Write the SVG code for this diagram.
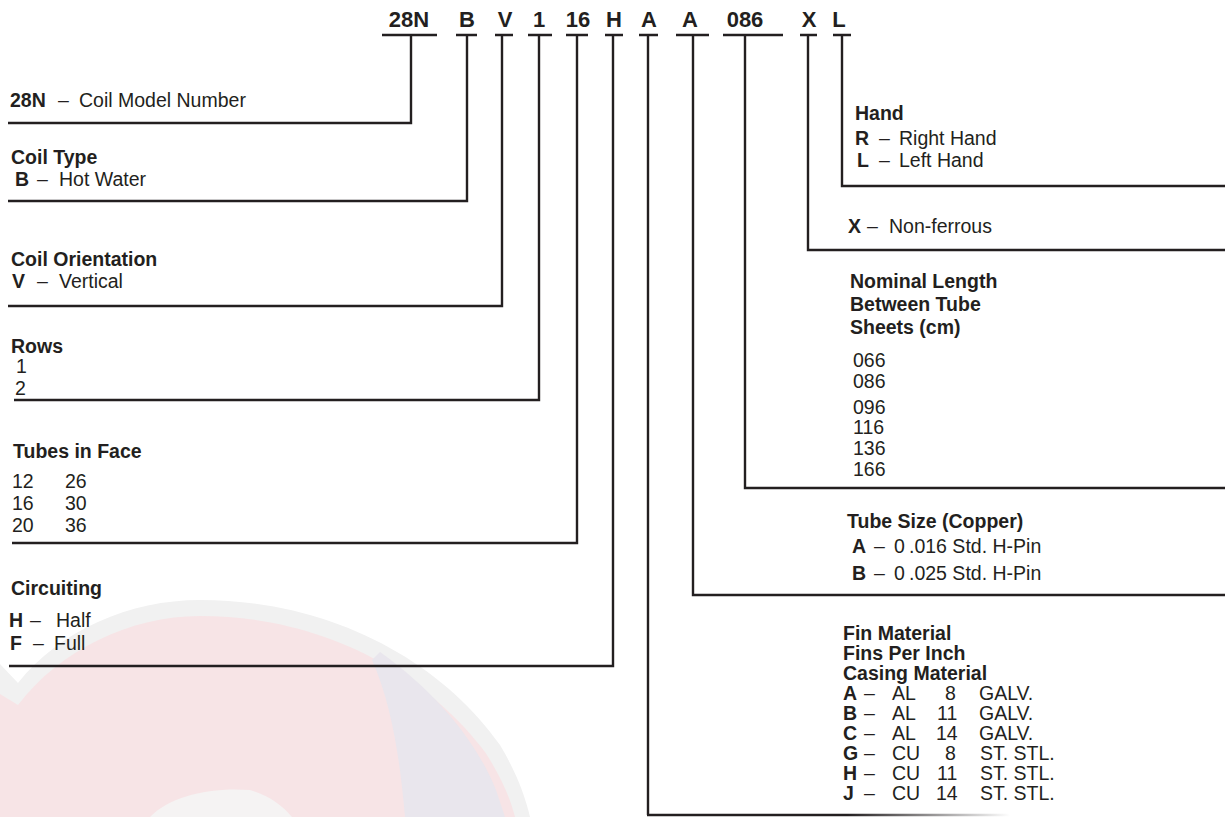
<svg xmlns="http://www.w3.org/2000/svg" width="1225" height="817" viewBox="0 0 1225 817">
<defs>
<style>
text { font-family: "Liberation Sans", Arial, Helvetica, sans-serif; fill: #231f20; font-size: 19.5px; }
.b { font-weight: bold; }
.code { font-weight: bold; font-size: 22px; text-anchor: middle; }
.ln { fill: none; stroke: #231f20; stroke-width: 2.4; }
</style>
<linearGradient id="fade" x1="648" y1="0" x2="1010" y2="0" gradientUnits="userSpaceOnUse">
<stop offset="0" stop-color="#231f20"/>
<stop offset="0.55" stop-color="#231f20"/>
<stop offset="1" stop-color="#231f20" stop-opacity="0"/>
</linearGradient>
</defs>
<rect width="1225" height="817" fill="#ffffff"/>
<g id="watermark">
<path d="M0,664 L18,683 C60,630 130,600 200,600 C330,600 440,660 500,745 C515,770 525,795 530,817 L0,817 Z" fill="#f1f1f1"/>
<path d="M0,694 L18,705 C60,650 130,616 200,616 C320,616 425,672 485,752 C500,775 510,797 515,817 L0,817 Z" fill="#f7e4e6"/>
<path d="M380,652 C440,695 478,745 496,790 L505,817 L405,817 C400,760 392,705 372,660 Z" fill="#e9e6ed"/>
<path d="M150,817 C170,796 210,787 250,790 C268,795 282,805 292,817 Z" fill="#f5f3f3"/>
</g>
<g id="connectors">
<path class="ln" d="M382,35 H437 M411,35 V123 H8"/>
<path class="ln" d="M456,35 H477 M467,35 V201 H8"/>
<path class="ln" d="M495,35 H513 M502,35 V306 H8"/>
<path class="ln" d="M528,35 H552 M539,35 V400 H14"/>
<path class="ln" d="M566,35 H588 M577,35 V543 H12"/>
<path class="ln" d="M605,35 H623 M613,35 V666 H9"/>
<path class="ln" d="M639,35 H658 M648,35 V815"/>
<path d="M647,815 H1010" fill="none" stroke="url(#fade)" stroke-width="2.4"/>
<path class="ln" d="M676,35 H709 M693,35 V595 H1225"/>
<path class="ln" d="M723,35 H783 M745,35 V488 H1225"/>
<path class="ln" d="M800,35 H817 M808,35 V250 H1225"/>
<path class="ln" d="M833,35 H851 M842,35 V186 H1225"/>
</g>
<g id="model-code">
<text class="code" x="409" y="27">28N</text>
<text class="code" x="467" y="27">B</text>
<text class="code" x="505" y="27">V</text>
<text class="code" x="539" y="27">1</text>
<text class="code" x="578" y="27">16</text>
<text class="code" x="614" y="27">H</text>
<text class="code" x="649" y="27">A</text>
<text class="code" x="690" y="27">A</text>
<text class="code" x="745" y="27">086</text>
<text class="code" x="809" y="27">X</text>
<text class="code" x="839" y="27">L</text>
</g>
<g id="coil-model">
<text y="107"><tspan class="b" x="10">28N</tspan><tspan x="58">–</tspan><tspan x="79">Coil Model Number</tspan></text>
</g>
<g id="coil-type">
<text class="b" x="11" y="164">Coil Type</text>
<text y="186"><tspan class="b" x="15">B</tspan><tspan x="37">–</tspan><tspan x="59">Hot Water</tspan></text>
</g>
<g id="coil-orientation">
<text class="b" x="11" y="266">Coil Orientation</text>
<text y="288"><tspan class="b" x="12">V</tspan><tspan x="37">–</tspan><tspan x="59">Vertical</tspan></text>
</g>
<g id="rows">
<text class="b" x="11" y="353">Rows</text>
<text x="16" y="373">1</text>
<text x="15" y="395">2</text>
</g>
<g id="tubes-in-face">
<text class="b" x="13" y="458">Tubes in Face</text>
<text y="488"><tspan x="12">12</tspan><tspan x="65">26</tspan></text>
<text y="510"><tspan x="12">16</tspan><tspan x="65">30</tspan></text>
<text y="532"><tspan x="12">20</tspan><tspan x="65">36</tspan></text>
</g>
<g id="circuiting">
<text class="b" x="11" y="595">Circuiting</text>
<text y="627"><tspan class="b" x="9">H</tspan><tspan x="30">–</tspan><tspan x="56">Half</tspan></text>
<text y="650"><tspan class="b" x="10">F</tspan><tspan x="33">–</tspan><tspan x="54">Full</tspan></text>
</g>
<g id="hand">
<text class="b" x="855" y="120">Hand</text>
<text y="145"><tspan class="b" x="855">R</tspan><tspan x="879">–</tspan><tspan x="899">Right Hand</tspan></text>
<text y="167"><tspan class="b" x="857">L</tspan><tspan x="879">–</tspan><tspan x="899">Left Hand</tspan></text>
</g>
<g id="non-ferrous">
<text y="233"><tspan class="b" x="848">X</tspan><tspan x="867">–</tspan><tspan x="889">Non-ferrous</tspan></text>
</g>
<g id="nominal-length">
<text class="b" x="850" y="288">Nominal Length</text>
<text class="b" x="850" y="311">Between Tube</text>
<text class="b" x="850" y="334">Sheets (cm)</text>
<text x="853" y="367">066</text>
<text x="853" y="388">086</text>
<text x="853" y="414">096</text>
<text x="853" y="434">116</text>
<text x="853" y="455">136</text>
<text x="853" y="476">166</text>
</g>
<g id="tube-size">
<text class="b" x="847" y="528">Tube Size (Copper)</text>
<text y="553"><tspan class="b" x="852">A</tspan><tspan x="874">–</tspan><tspan x="894">0</tspan><tspan x="909">.016 Std. H-Pin</tspan></text>
<text y="580"><tspan class="b" x="852">B</tspan><tspan x="874">–</tspan><tspan x="894">0</tspan><tspan x="909">.025 Std. H-Pin</tspan></text>
</g>
<g id="fin-material">
<text class="b" x="843" y="640">Fin Material</text>
<text class="b" x="843" y="660">Fins Per Inch</text>
<text class="b" x="843" y="680">Casing Material</text>
<text y="700"><tspan class="b" x="843">A</tspan><tspan x="864">–</tspan><tspan x="892">AL</tspan><tspan x="945">8</tspan><tspan x="979">GALV.</tspan></text>
<text y="720"><tspan class="b" x="843">B</tspan><tspan x="864">–</tspan><tspan x="892">AL</tspan><tspan x="937">11</tspan><tspan x="979">GALV.</tspan></text>
<text y="740"><tspan class="b" x="843">C</tspan><tspan x="864">–</tspan><tspan x="892">AL</tspan><tspan x="936">14</tspan><tspan x="979">GALV.</tspan></text>
<text y="760"><tspan class="b" x="843">G</tspan><tspan x="864">–</tspan><tspan x="892">CU</tspan><tspan x="945">8</tspan><tspan x="980">ST. STL.</tspan></text>
<text y="780"><tspan class="b" x="843">H</tspan><tspan x="864">–</tspan><tspan x="892">CU</tspan><tspan x="937">11</tspan><tspan x="980">ST. STL.</tspan></text>
<text y="800"><tspan class="b" x="843">J</tspan><tspan x="864">–</tspan><tspan x="892">CU</tspan><tspan x="936">14</tspan><tspan x="980">ST. STL.</tspan></text>
</g>
</svg>
